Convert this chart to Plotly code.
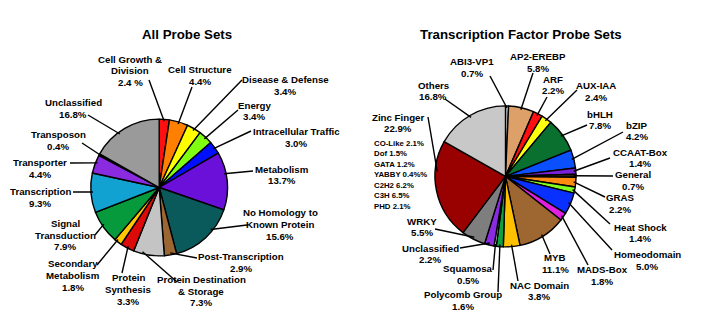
import math
import plotly.graph_objects as go

# ---------------- data ----------------
all_categories = [
    "Cell Growth & Division", "Cell Structure", "Disease & Defense", "Energy",
    "Intracellular Traffic", "Metabolism", "No Homology to Known Protein",
    "Post-Transcription", "Protein Destination & Storage", "Protein Synthesis",
    "Secondary Metabolism", "Signal Transduction", "Transcription", "Transporter",
    "Transposon", "Unclassified",
]
all_values = [2.4, 4.4, 3.4, 3.4, 3.0, 13.7, 15.6, 2.9, 7.3, 3.3, 1.8, 7.9, 9.3, 4.4, 0.4, 16.8]

tf_categories = [
    "ABI3-VP1", "AP2-EREBP", "ARF", "AUX-IAA", "bHLH", "bZIP", "CCAAT-Box", "General",
    "GRAS", "Heat Shock", "Homeodomain", "MADS-Box", "MYB", "NAC Domain",
    "Polycomb Group", "Squamosa", "Unclassified", "WRKY", "Zinc Finger", "Others",
]
tf_values = [0.7, 5.8, 2.2, 2.4, 7.8, 4.2, 1.4, 0.7, 2.2, 1.4, 5.0, 1.8, 11.1, 3.8,
             1.6, 0.5, 2.2, 5.5, 22.9, 16.8]

zinc_families = ["CO-Like", "Dof", "GATA", "YABBY", "C2H2", "C3H", "PHD"]
zinc_values = [2.1, 1.5, 1.2, 0.4, 6.2, 6.5, 2.1]

# ---------------- styling ----------------
W, H = 701, 324
FONT = "Liberation Sans, Arial, sans-serif"
LABEL_SIZE = 9.7
LINE_GAP = 11.6

all_colors = [
    "#FF1010", "#FF8000", "#FFFF00", "#80FF10", "#0010FF", "#6A10D8", "#0A5A5C",
    "#9C6632", "#C4C4C4", "#DD0A0A", "#FFC800", "#079A3C", "#12A2D2", "#8A2BE0",
    "#000000", "#9A9A9A",
]
tf_colors = [
    "#F2F2F2", "#DCA068", "#FF1010", "#FFFF10", "#0A7030", "#0A50FF", "#7A20D8",
    "#3A2A10", "#FF8C10", "#80FF20", "#0A30FF", "#E020E0", "#9E6630", "#FFC000",
    "#10A040", "#FFFFFF", "#8A2BE2", "#7E7E7E", "#990000", "#C8C8C8",
]

# pie geometry in pixels (centre x, centre y, radius)
left_geo = (159.2, 187.5, 68.4)
right_geo = (505.5, 176.4, 70.5)

# wrapped label names
wrap = {
    "Cell Growth & Division": ["Cell Growth &", "Division"],
    "No Homology to Known Protein": ["No Homology to", "Known Protein"],
    "Protein Destination & Storage": ["Protein Destination", "& Storage"],
    "Protein Synthesis": ["Protein", "Synthesis"],
    "Secondary Metabolism": ["Secondary", "Metabolism"],
    "Signal Transduction": ["Signal", "Transduction"],
}
pct_fmt = {"Cell Growth & Division": "{:.1f} %"}

# label block centre (x, y), leader start (x, y), position inside slice (0..1)
left_layout = {
    "Cell Growth & Division": (130, 71, 149, 80, 0.5),
    "Cell Structure": (200, 75.5, 192, 87, 0.5),
    "Disease & Defense": (285, 85.5, 242, 80, 0.5),
    "Energy": (254, 111, 238, 110, 0.5),
    "Intracellular Traffic": (296, 137.5, 251, 131, 0.5),
    "Metabolism": (282, 175, 253, 171, 0.37),
    "No Homology to Known Protein": (280, 224.5, 247, 225, 0.36),
    "Post-Transcription": (241, 262.5, 197, 258, 0.5),
    "Protein Destination & Storage": (201, 291, 177, 282, 0.72),
    "Protein Synthesis": (128, 289.5, 122, 273, 0.5),
    "Secondary Metabolism": (73, 275.5, 97, 265, 0.7),
    "Signal Transduction": (65, 235, 95, 235, 0.57),
    "Transcription": (40, 197.5, 73, 192, 0.52),
    "Transporter": (40, 168.5, 70, 163, 0.6),
    "Transposon": (58, 140.5, 82, 143, 0.5),
    "Unclassified": (73, 108.5, 88, 115, 0.4),
}
right_layout = {
    "ABI3-VP1": (472, 67.5, 490, 76, 0.5),
    "AP2-EREBP": (538, 62.5, 533, 73, 0.5),
    "ARF": (553, 85, 547, 97, 0.5),
    "AUX-IAA": (596, 91.5, 577, 90, 0.5),
    "bHLH": (600, 120, 587, 125, 0.5),
    "bZIP": (637, 131, 623, 132, 0.5),
    "CCAAT-Box": (640, 158, 610, 158, 0.5),
    "General": (633, 180.5, 613, 176, 0.5),
    "GRAS": (620, 203.5, 605, 197, 0.5),
    "Heat Shock": (640, 233, 610, 224, 0.5),
    "Homeodomain": (647, 260.5, 612, 250, 0.5),
    "MADS-Box": (602, 275.5, 588, 265, 0.5),
    "MYB": (555, 263.5, 550, 254, 0.5),
    "NAC Domain": (539, 291, 518, 281, 0.5),
    "Polycomb Group": (463, 300.5, 498, 292, 0.5),
    "Squamosa": (468, 274.5, 493, 270, 0.5),
    "Unclassified": (430, 254, 460, 248, 0.5),
    "WRKY": (422, 227, 435, 229, 0.5),
    "Zinc Finger": (398, 123, 428, 117, 0.69),
    "Others": (433, 91, 445, 99, 0.5),
}


def px(x):
    return x / W


def py(y):
    return 1 - y / H


def domain(geo):
    cx, cy, r = geo
    return dict(x=[px(cx - r), px(cx + r)], y=[py(cy + r), py(cy - r)])


def slice_point(geo, values, i, frac, rfrac=0.97):
    cx, cy, r = geo
    total = sum(values)
    start = sum(values[:i]) / total
    a = 2 * math.pi * (start + frac * values[i] / total)
    return cx + rfrac * r * math.sin(a), cy - rfrac * r * math.cos(a)


fig = go.Figure()
for cats, vals, cols, geo in [
    (all_categories, all_values, all_colors, left_geo),
    (tf_categories, tf_values, tf_colors, right_geo),
]:
    fig.add_trace(go.Pie(
        labels=cats, values=vals, sort=False, direction="clockwise", rotation=0,
        marker=dict(colors=cols, line=dict(color="#000000", width=1.4)),
        textinfo="none", hoverinfo="label+percent", showlegend=False,
        domain=domain(geo),
    ))

annotations = []
shapes = []
for cats, vals, geo, lay in [
    (all_categories, all_values, left_geo, left_layout),
    (tf_categories, tf_values, right_geo, right_layout),
]:
    for i, (name, v) in enumerate(zip(cats, vals)):
        tx, ty, sx, sy, frac = lay[name]
        lines = wrap.get(name, [name]) + [pct_fmt.get(name, "{:.1f}%").format(v)]
        n = len(lines)
        for k, line in enumerate(lines):
            annotations.append(dict(
                x=px(tx), y=py(ty + (k - (n - 1) / 2) * LINE_GAP),
                xref="paper", yref="paper",
                xanchor="center", yanchor="middle",
                text=f"<b>{line}</b>", showarrow=False,
                font=dict(family=FONT, size=LABEL_SIZE, color="#000000"),
            ))
        ex, ey = slice_point(geo, vals, i, frac)
        shapes.append(dict(
            type="line", xref="paper", yref="paper",
            x0=px(sx), y0=py(sy), x1=px(ex), y1=py(ey),
            line=dict(color="#000000", width=1.4),
        ))

# zinc finger sub-families
sub_y = [143, 153.5, 164, 174.5, 185, 195.5, 206]
for fam, v, yy in zip(zinc_families, zinc_values, sub_y):
    suffix = "%%" if fam == "YABBY" else "%"
    annotations.append(dict(
        x=px(372), y=py(yy), xref="paper", yref="paper",
        xanchor="left", yanchor="middle", align="left",
        text=f"<b>{fam} {v:.1f}{suffix}</b>", showarrow=False,
        font=dict(family=FONT, size=7.8, color="#000000"),
    ))

# panel titles
for t, x in [("All Probe Sets", 187), ("Transcription Factor Probe Sets", 521)]:
    annotations.append(dict(
        x=px(x), y=py(34), xref="paper", yref="paper",
        xanchor="center", yanchor="middle",
        text=f"<b>{t}</b>", showarrow=False,
        font=dict(family=FONT, size=13.3, color="#000000"),
    ))

fig.update_layout(
    width=W, height=H, margin=dict(l=0, r=0, t=0, b=0),
    paper_bgcolor="#FFFFFF", plot_bgcolor="#FFFFFF",
    annotations=annotations, shapes=shapes,
)

fig.write_html("out.html")
